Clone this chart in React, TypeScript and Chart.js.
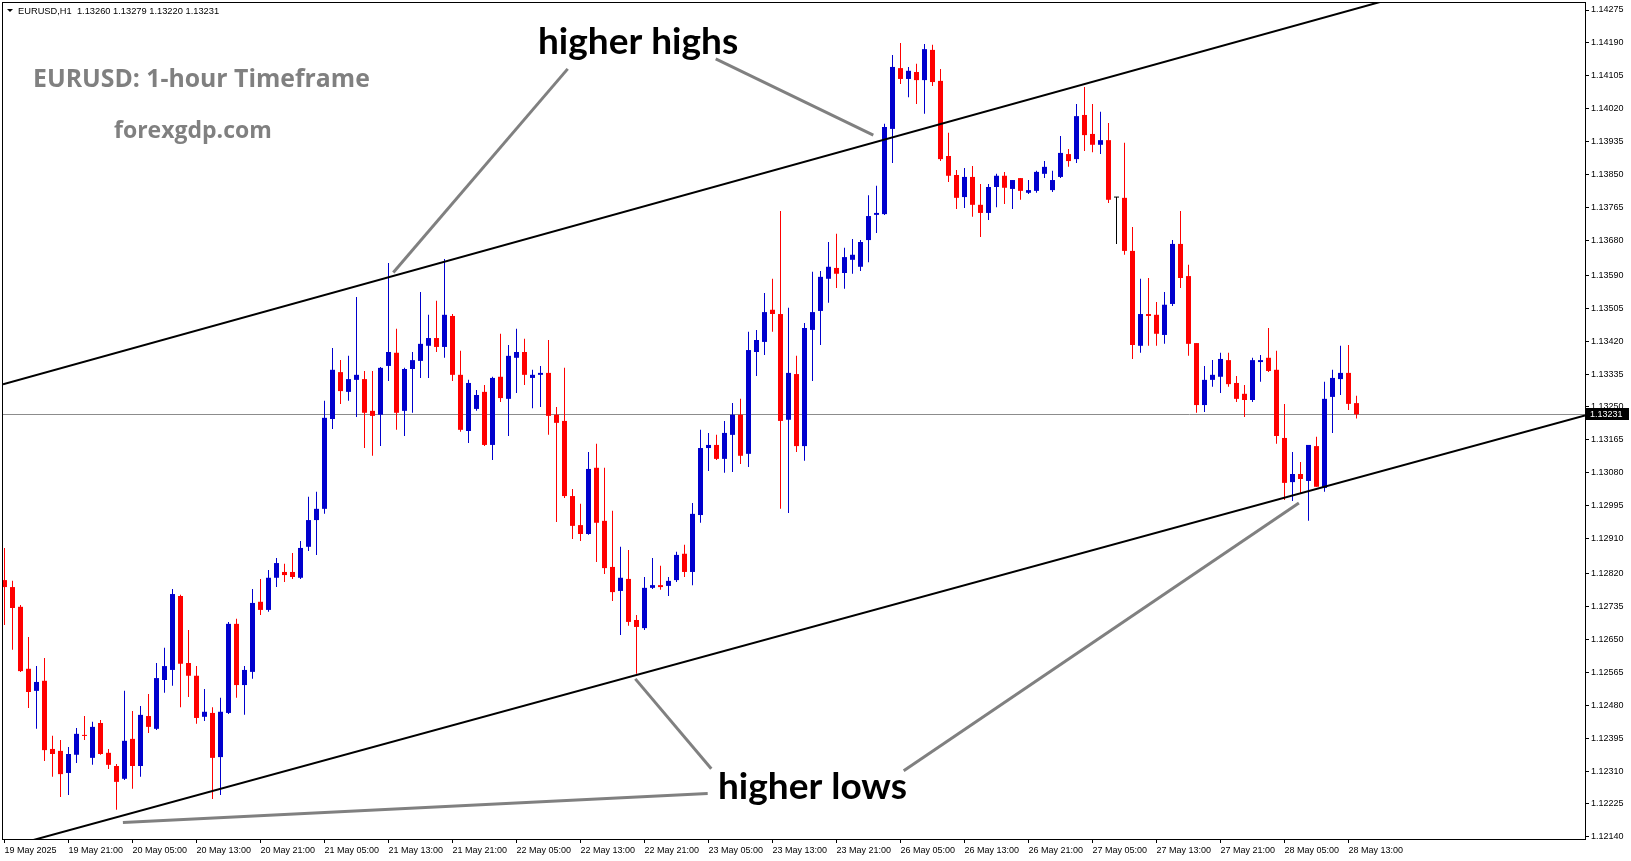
import React, { useEffect, useRef } from "react";
import { Chart, registerables } from "chart.js";

Chart.register(...registerables);

// ---- Data (EURUSD H1, bar index 0 = 19 May 2025 13:00) ----
const timeLabels = [
  "19 May 2025", "19 May 21:00", "20 May 05:00", "20 May 13:00", "20 May 21:00",
  "21 May 05:00", "21 May 13:00", "21 May 21:00", "22 May 05:00", "22 May 13:00",
  "22 May 21:00", "23 May 05:00", "23 May 13:00", "23 May 21:00", "26 May 05:00",
  "26 May 13:00", "26 May 21:00", "27 May 05:00", "27 May 13:00", "27 May 21:00",
  "28 May 05:00", "28 May 13:00",
];
const labelEvery = 8;

const opens = [
  1.12803, 1.12785, 1.12734, 1.12574, 1.12517, 1.12543, 1.12367, 1.12362, 1.12305, 1.12352,
  1.12403, 1.12344, 1.12434, 1.12357, 1.12323, 1.12290, 1.12393, 1.12323, 1.12452, 1.12419,
  1.12545, 1.12571, 1.12762, 1.12589, 1.12556, 1.12450, 1.12460, 1.12346, 1.12460, 1.12690,
  1.12532, 1.12566, 1.12747, 1.12726, 1.12809, 1.12824, 1.12824, 1.12809, 1.12889, 1.12958,
  1.12987, 1.13219, 1.13340, 1.13289, 1.13320, 1.13322, 1.13240, 1.13230, 1.13356, 1.13390,
  1.13240, 1.13348, 1.13369, 1.13408, 1.13428, 1.13405, 1.13485, 1.13333, 1.13188, 1.13245,
  1.13289, 1.13152, 1.13328, 1.13271, 1.13377, 1.13392, 1.13325, 1.13333, 1.13338, 1.13230,
  1.13214, 1.13020, 1.12945, 1.12922, 1.13093, 1.12956, 1.12837, 1.12775, 1.12806, 1.12700,
  1.12679, 1.12783, 1.12790, 1.12788, 1.12803, 1.12871, 1.12824, 1.12971, 1.13144, 1.13152,
  1.13116, 1.13178, 1.13230, 1.13129, 1.13392, 1.13418, 1.13501, 1.13490, 1.13217, 1.13335,
  1.13149, 1.13449, 1.13498, 1.13581, 1.13609, 1.13596, 1.13630, 1.13612, 1.13681, 1.13746,
  1.13748, 1.13968, 1.14125, 1.14097, 1.14115, 1.14094, 1.14172, 1.14092, 1.13898, 1.13849,
  1.13792, 1.13844, 1.13772, 1.13751, 1.13818, 1.13847, 1.13813, 1.13841, 1.13803, 1.13808,
  1.13852, 1.13810, 1.13844, 1.13903, 1.13890, 1.14004, 1.13955, 1.13927, 1.13939, 1.13792,
  1.13790, 1.13653, 1.13408, 1.13490, 1.13488, 1.13436, 1.13516, 1.13671, 1.13588, 1.13415,
  1.13255, 1.13320, 1.13328, 1.13371, 1.13312, 1.13284, 1.13268, 1.13366, 1.13377, 1.13346,
  1.13170, 1.13056, 1.13077, 1.13059, 1.13149, 1.13041, 1.13276, 1.13322, 1.13338, 1.13260,
];
const highs = [
  1.12886, 1.12801, 1.12739, 1.12656, 1.12581, 1.12602, 1.12401, 1.12390, 1.12372, 1.12421,
  1.12452, 1.12437, 1.12442, 1.12367, 1.12328, 1.12517, 1.12465, 1.12478, 1.12509, 1.12589,
  1.12628, 1.12780, 1.12765, 1.12674, 1.12581, 1.12522, 1.12475, 1.12499, 1.12695, 1.12703,
  1.12581, 1.12780, 1.12806, 1.12829, 1.12860, 1.12845, 1.12873, 1.12904, 1.13018, 1.13031,
  1.13266, 1.13402, 1.13371, 1.13382, 1.13534, 1.13343, 1.13343, 1.13353, 1.13622, 1.13452,
  1.13351, 1.13392, 1.13547, 1.13488, 1.13524, 1.13632, 1.13490, 1.13395, 1.13320, 1.13294,
  1.13307, 1.13328, 1.13439, 1.13410, 1.13452, 1.13426, 1.13346, 1.13356, 1.13423, 1.13250,
  1.13351, 1.13038, 1.13000, 1.13134, 1.13155, 1.13093, 1.12982, 1.12889, 1.12881, 1.12713,
  1.12811, 1.12860, 1.12840, 1.12811, 1.12876, 1.12894, 1.13002, 1.13191, 1.13183, 1.13178,
  1.13214, 1.13260, 1.13271, 1.13444, 1.13449, 1.13544, 1.13581, 1.13756, 1.13506, 1.13382,
  1.13467, 1.13599, 1.13601, 1.13676, 1.13697, 1.13661, 1.13684, 1.13681, 1.13797, 1.13821,
  1.13981, 1.14159, 1.14190, 1.14128, 1.14136, 1.14187, 1.14185, 1.14123, 1.13958, 1.13862,
  1.13867, 1.13872, 1.13826, 1.13826, 1.13852, 1.13857, 1.13836, 1.13841, 1.13836, 1.13860,
  1.13885, 1.13860, 1.13950, 1.13916, 1.14032, 1.14076, 1.14032, 1.14012, 1.13983, 1.13792,
  1.13932, 1.13715, 1.13581, 1.13583, 1.13521, 1.13547, 1.13681, 1.13756, 1.13617, 1.13415,
  1.13356, 1.13371, 1.13390, 1.13390, 1.13330, 1.13307, 1.13377, 1.13384, 1.13454, 1.13395,
  1.13258, 1.13134, 1.13108, 1.13152, 1.13173, 1.13315, 1.13346, 1.13408, 1.13410, 1.13279,
];
const lows = [
  1.12687, 1.12623, 1.12566, 1.12473, 1.12419, 1.12336, 1.12295, 1.12243, 1.12248, 1.12331,
  1.12390, 1.12326, 1.12352, 1.12315, 1.12210, 1.12287, 1.12264, 1.12295, 1.12408, 1.12416,
  1.12512, 1.12530, 1.12475, 1.12501, 1.12432, 1.12439, 1.12238, 1.12248, 1.12457, 1.12499,
  1.12455, 1.12548, 1.12713, 1.12721, 1.12785, 1.12798, 1.12806, 1.12806, 1.12878, 1.12868,
  1.12974, 1.13193, 1.13258, 1.13266, 1.13224, 1.13144, 1.13124, 1.13149, 1.13317, 1.13191,
  1.13175, 1.13235, 1.13325, 1.13325, 1.13392, 1.13377, 1.13317, 1.13186, 1.13157, 1.13240,
  1.13149, 1.13113, 1.13263, 1.13175, 1.13286, 1.13307, 1.13247, 1.13250, 1.13178, 1.12953,
  1.13015, 1.12909, 1.12904, 1.12920, 1.12850, 1.12819, 1.12749, 1.12661, 1.12685, 1.12561,
  1.12674, 1.12780, 1.12778, 1.12762, 1.12798, 1.12811, 1.12790, 1.12951, 1.13085, 1.13113,
  1.13080, 1.13082, 1.13103, 1.13095, 1.13330, 1.13384, 1.13444, 1.12987, 1.12976, 1.13134,
  1.13111, 1.13317, 1.13410, 1.13519, 1.13557, 1.13555, 1.13594, 1.13601, 1.13624, 1.13699,
  1.13746, 1.13880, 1.14084, 1.14050, 1.14032, 1.14007, 1.14079, 1.13885, 1.13831, 1.13761,
  1.13764, 1.13741, 1.13689, 1.13733, 1.13766, 1.13774, 1.13761, 1.13785, 1.13800, 1.13803,
  1.13841, 1.13805, 1.13841, 1.13870, 1.13880, 1.13911, 1.13908, 1.13903, 1.13777, 1.13671,
  1.13643, 1.13374, 1.13390, 1.13408, 1.13408, 1.13413, 1.13511, 1.13557, 1.13382, 1.13235,
  1.13237, 1.13302, 1.13286, 1.13302, 1.13263, 1.13224, 1.13263, 1.13315, 1.13340, 1.13155,
  1.13010, 1.13007, 1.13028, 1.12956, 1.13044, 1.13031, 1.13183, 1.13281, 1.13242, 1.13220,
];
const closes = [
  1.12785, 1.12731, 1.12568, 1.12514, 1.12540, 1.12364, 1.12354, 1.12302, 1.12354, 1.12406,
  1.12401, 1.12424, 1.12354, 1.12326, 1.12282, 1.12388, 1.12323, 1.12455, 1.12424, 1.12550,
  1.12581, 1.12767, 1.12587, 1.12556, 1.12447, 1.12463, 1.12344, 1.12463, 1.12690, 1.12532,
  1.12571, 1.12744, 1.12726, 1.12809, 1.12847, 1.12816, 1.12811, 1.12886, 1.12958, 1.12987,
  1.13222, 1.13346, 1.13291, 1.13322, 1.13333, 1.13235, 1.13227, 1.13351, 1.13392, 1.13235,
  1.13348, 1.13371, 1.13413, 1.13428, 1.13405, 1.13488, 1.13333, 1.13191, 1.13312, 1.13281,
  1.13152, 1.13325, 1.13273, 1.13382, 1.13392, 1.13333, 1.13333, 1.13338, 1.13227, 1.13209,
  1.13020, 1.12943, 1.12922, 1.13090, 1.12951, 1.12834, 1.12772, 1.12809, 1.12695, 1.12682,
  1.12783, 1.12790, 1.12785, 1.12801, 1.12868, 1.12824, 1.12974, 1.13144, 1.13152, 1.13116,
  1.13183, 1.13230, 1.13124, 1.13397, 1.13423, 1.13495, 1.13490, 1.13214, 1.13338, 1.13149,
  1.13454, 1.13495, 1.13586, 1.13612, 1.13594, 1.13637, 1.13643, 1.13676, 1.13743, 1.13751,
  1.13973, 1.14128, 1.14097, 1.14118, 1.14094, 1.14174, 1.14089, 1.13890, 1.13847, 1.13790,
  1.13844, 1.13772, 1.13751, 1.13818, 1.13847, 1.13816, 1.13836, 1.13808, 1.13810, 1.13857,
  1.13870, 1.13836, 1.13906, 1.13885, 1.14001, 1.13952, 1.13927, 1.13939, 1.13785, 1.13792,
  1.13653, 1.13410, 1.13490, 1.13485, 1.13439, 1.13514, 1.13671, 1.13583, 1.13413, 1.13255,
  1.13320, 1.13333, 1.13374, 1.13309, 1.13271, 1.13268, 1.13371, 1.13371, 1.13343, 1.13175,
  1.13054, 1.13077, 1.13064, 1.13152, 1.13044, 1.13271, 1.13325, 1.13338, 1.13258, 1.13231,
];

const priceTicks = [
  1.14275, 1.14190, 1.14105, 1.14020, 1.13935, 1.13850, 1.13765, 1.13680, 1.13590,
  1.13505, 1.13420, 1.13335, 1.13250, 1.13165, 1.13080, 1.12995, 1.12910, 1.12820,
  1.12735, 1.12650, 1.12565, 1.12480, 1.12395, 1.12310, 1.12225, 1.12140,
];

// trend channel lines: [barIndex, price] anchor pairs
const upperChannel = [[33.2, 1.13500], [124.4, 1.14023]];
const lowerChannel = [[17.6, 1.12211], [171.9, 1.13083]];

// gray pointer lines of the annotations: [barIndex, price] pairs
const pointerLines = [
  [[70.4, 1.14123], [48.6, 1.13597]],
  [[88.9, 1.14149], [108.6, 1.13952]],
  [[78.85, 1.12548], [88.35, 1.12316]],
  [[112.4, 1.12311], [161.8, 1.13002]],
  [[14.8, 1.12177], [87.9, 1.12252]],
];

// ---- layout / style ----
const W = 1631;
const H = 861;
const BAR_PX = 8;
const PLOT_LEFT = 3;
const PLOT_RIGHT = 1585;
const X_MIN = -0.1875;
const X_MAX = X_MIN + (PLOT_RIGHT - PLOT_LEFT) / BAR_PX;
const Y_MIN = 1.121345;
const Y_MAX = 1.142931;
const BULL = "#0000CD";
const BEAR = "#FF0000";
const DOJI = "#000000";
const AXIS_FONT = { family: "'Liberation Sans', Arial, sans-serif", size: 9 };

const n = opens.length;
const colors = opens.map((o, i) =>
  closes[i] > o ? BULL : closes[i] < o ? BEAR : DOJI
);
const pxPrice = (Y_MAX - Y_MIN) / (861 - 22 - 3);
const wickData = opens.map((_, i) => ({ x: i, y: [lows[i], highs[i]] }));
const bodyData = opens.map((o, i) => {
  const c = closes[i];
  if (Math.abs(c - o) < pxPrice) {
    const m = (o + c) / 2;
    return { x: i, y: [m - pxPrice / 2, m + pxPrice / 2] };
  }
  return { x: i, y: [o, c] };
});
const tickIdx = timeLabels.map((_, k) => k * labelEvery);

const fmt = (v: number) => v.toFixed(5);

const overlayPlugin = {
  id: "overlay",
  beforeDatasetsDraw(chart: any) {
    const { ctx, chartArea: a, scales } = chart;
    const py = Math.round(scales.y.getPixelForValue(closes[n - 1])) + 0.5;
    ctx.save();
    ctx.strokeStyle = "#8c8c8c";
    ctx.lineWidth = 1;
    ctx.beginPath();
    ctx.moveTo(a.left, py);
    ctx.lineTo(a.right, py);
    ctx.stroke();
    ctx.restore();
  },
  afterDatasetsDraw(chart: any) {
    const { ctx, chartArea: a, scales } = chart;
    const xs = scales.x;
    const ys = scales.y;
    ctx.save();
    ctx.beginPath();
    ctx.rect(a.left, a.top, a.right - a.left, a.bottom - a.top);
    ctx.clip();
    // channel lines
    ctx.strokeStyle = "#000";
    ctx.lineWidth = 2;
    for (const ln of [upperChannel, lowerChannel]) {
      const x1 = xs.getPixelForValue(ln[0][0]);
      const y1 = ys.getPixelForValue(ln[0][1]);
      const x2 = xs.getPixelForValue(ln[1][0]);
      const y2 = ys.getPixelForValue(ln[1][1]);
      const k = (y2 - y1) / (x2 - x1);
      ctx.beginPath();
      ctx.moveTo(a.left, y1 + (a.left - x1) * k);
      ctx.lineTo(a.right, y1 + (a.right - x1) * k);
      ctx.stroke();
    }
    // pointer lines
    ctx.strokeStyle = "#808080";
    ctx.lineWidth = 3;
    for (const ln of pointerLines) {
      ctx.beginPath();
      ctx.moveTo(xs.getPixelForValue(ln[0][0]), ys.getPixelForValue(ln[0][1]));
      ctx.lineTo(xs.getPixelForValue(ln[1][0]), ys.getPixelForValue(ln[1][1]));
      ctx.stroke();
    }
    // annotation texts
    ctx.fillStyle = "#000";
    ctx.textBaseline = "alphabetic";
    ctx.textAlign = "left";
    ctx.font = "bold 37px Lato, 'Open Sans', sans-serif";
    ctx.fillText("higher highs", 538, 54);
    ctx.fillText("higher lows", 718, 799);
    ctx.fillStyle = "#808080";
    ctx.font = "bold 24.8px 'Open Sans', sans-serif";
    ctx.fillText("EURUSD: 1-hour Timeframe", 33, 87);
    ctx.font = "bold 23px 'Open Sans', sans-serif";
    ctx.fillText("forexgdp.com", 114, 138);
    ctx.restore();
  },
  afterDraw(chart: any) {
    const { ctx, chartArea: a, scales } = chart;
    ctx.save();
    // frame
    ctx.strokeStyle = "#000";
    ctx.lineWidth = 1;
    ctx.strokeRect(a.left - 0.5, a.top - 0.5, a.right - a.left + 1, a.bottom - a.top + 1);
    // header
    ctx.fillStyle = "#000";
    ctx.beginPath();
    ctx.moveTo(7, 9);
    ctx.lineTo(13, 9);
    ctx.lineTo(10, 12);
    ctx.closePath();
    ctx.fill();
    ctx.font = "9.3px 'Liberation Sans', Arial, sans-serif";
    ctx.textBaseline = "alphabetic";
    ctx.textAlign = "left";
    ctx.fillText(
      `EURUSD,H1  ${fmt(opens[n - 1])} ${fmt(highs[n - 1])} ${fmt(lows[n - 1])} ${fmt(closes[n - 1])}`,
      18,
      14
    );
    // current price box on the axis
    const py = Math.round(scales.y.getPixelForValue(closes[n - 1]));
    ctx.fillStyle = "#000";
    ctx.fillRect(a.right + 1, py - 6, 43, 12);
    ctx.fillStyle = "#fff";
    ctx.font = "9px 'Liberation Sans', Arial, sans-serif";
    ctx.textBaseline = "middle";
    ctx.fillText(fmt(closes[n - 1]), a.right + 5, py + 0.5);
    ctx.restore();
  },
};

export default function App() {
  const ref = useRef<HTMLCanvasElement | null>(null);
  useEffect(() => {
    document.body.style.margin = "0";
    const canvas = ref.current;
    if (!canvas) return;
    const chart = new Chart(canvas, {
      type: "bar",
      data: {
        datasets: [
          {
            label: "wick",
            data: wickData as any,
            backgroundColor: colors,
            barThickness: 1,
            grouped: false,
            inflateAmount: 0,
            borderWidth: 0,
            order: 2,
          } as any,
          {
            label: "body",
            data: bodyData as any,
            backgroundColor: colors,
            barThickness: 5,
            grouped: false,
            inflateAmount: 0,
            borderWidth: 0,
            order: 1,
          } as any,
        ],
      },
      options: {
        responsive: false,
        animation: false,
        devicePixelRatio: 1,
        events: [],
        layout: { padding: { left: PLOT_LEFT, top: 3, right: 0, bottom: 0 } },
        plugins: { legend: { display: false }, tooltip: { enabled: false } },
        scales: {
          x: {
            type: "linear",
            min: X_MIN,
            max: X_MAX,
            offset: false,
            grid: {
              display: true,
              offset: false,
              drawOnChartArea: false,
              drawTicks: true,
              tickLength: 4,
              color: "#000",
              lineWidth: 1,
            },
            border: { display: false },
            ticks: {
              autoSkip: false,
              maxRotation: 0,
              minRotation: 0,
              align: "start",
              padding: 2,
              color: "#000",
              font: AXIS_FONT,
              callback: (v: any) => {
                const k = tickIdx.indexOf(Number(v));
                return k >= 0 ? timeLabels[k] : "";
              },
            },
            afterBuildTicks: (s: any) => {
              s.ticks = tickIdx.map((v) => ({ value: v }));
            },
            afterFit: (s: any) => {
              s.height = 22;
              s.paddingLeft = 0;
              s.paddingRight = 0;
            },
          } as any,
          y: {
            type: "linear",
            position: "right",
            min: Y_MIN,
            max: Y_MAX,
            beginAtZero: false,
            grid: {
              display: true,
              drawOnChartArea: false,
              drawTicks: true,
              tickLength: 4,
              color: "#000",
              lineWidth: 1,
            },
            border: { display: false },
            ticks: {
              autoSkip: false,
              padding: 2,
              color: "#000",
              font: AXIS_FONT,
              callback: (v: any) => Number(v).toFixed(5),
            },
            afterBuildTicks: (s: any) => {
              s.ticks = priceTicks.map((v) => ({ value: v }));
            },
            afterFit: (s: any) => {
              s.width = W - PLOT_RIGHT;
              s.paddingTop = 0;
              s.paddingBottom = 0;
            },
          } as any,
        },
      },
      plugins: [overlayPlugin],
    });
    return () => chart.destroy();
  }, []);

  return (
    <div style={{ width: W, height: H, background: "#fff", overflow: "hidden" }}>
      <canvas
        ref={ref}
        width={W}
        height={H}
        style={{ display: "block", width: W, height: H }}
      />
    </div>
  );
}
